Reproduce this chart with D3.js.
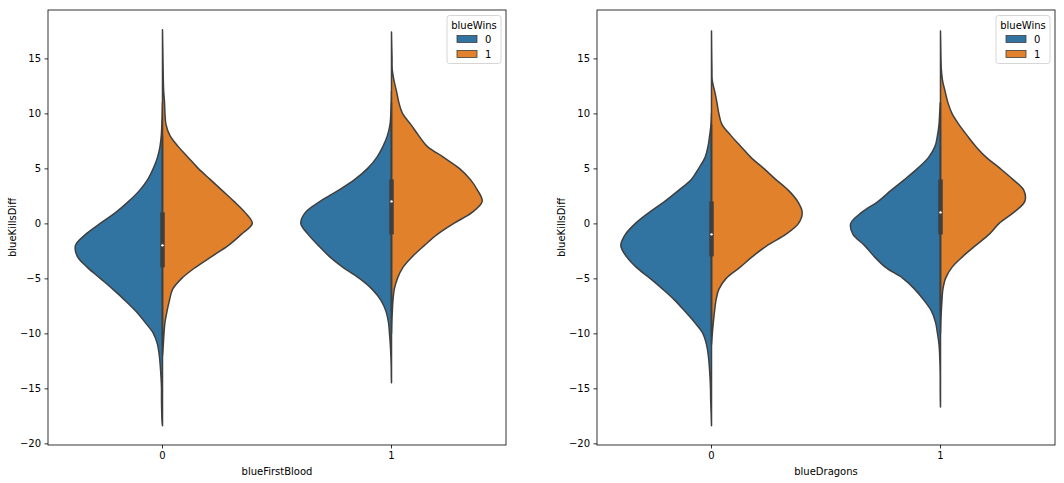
<!DOCTYPE html>
<html>
<head>
<meta charset="utf-8">
<script src="https://cdn.jsdelivr.net/npm/d3@7"></script>
<style>
  body { margin: 0; background: #fff; }
  text { font-family: "DejaVu Sans", sans-serif; }
</style>
</head>
<body>
<svg id="chart" width="1064" height="483"></svg>
<script>
// categories and ticks
const categories = ["0", "1"];
const hueLevels = ["0", "1"];
const yTicks = [-20, -15, -10, -5, 0, 5, 10, 15];

// half-violin widths: [blueKillsDiff, relative density (100 = widest half)]
// blueFirstBlood panel
const fbLose0 = [[-18.4,0],[-18,0.5],[-17,0.9],[-16,1.1],[-15,1.1],[-14,1.6],[-13,2.4],[-12,3.5],[-11,5.5],[-10,10],[-9,19],[-8,29],[-7,41],[-6,54],[-5,68],[-4,82],[-3,93],[-2,95],[-1,84],[0,68],[1,51],[2,37],[3,25],[4,16],[5,10],[6,5.5],[7,2.7],[8,1.3],[9,0.7],[10,0.3],[11,0]];
const fbWin0 = [[-12,0],[-11,0.9],[-10,1.6],[-9,2.7],[-8,4.9],[-7,7.6],[-6,11],[-5,21],[-4,36],[-3,54],[-2,72],[-1,86],[0,98],[1,90],[2,78],[3,65],[4,52],[5,39],[6,28],[7,17],[8,8],[9,3.8],[10,2.7],[11,2.2],[12,1.3],[13,0.9],[14,0.7],[16,0.3],[17.6,0]];
const fbLose1 = [[-14.5,0],[-14,0.2],[-13,0.3],[-12,0.7],[-11,1.3],[-10,2.2],[-9,3.3],[-8,6],[-7,11.5],[-6,21],[-5,35],[-4,53],[-3,68],[-2,80],[-1,91],[0,99],[1,94],[2,78],[3,58],[4,40],[5,26],[6,16],[7,9.3],[8,4.4],[9,1.6],[10,0.7],[11,0.2],[12,0]];
const fbWin1 = [[-10,0],[-9,0.3],[-8,0.9],[-7,1.6],[-6,3],[-5,6.5],[-4,12.5],[-3,23],[-2,36],[-1,50],[0,68],[1,88],[2,99],[3,94],[4,86],[5,74],[6,57],[7,39],[8,29.5],[9,21],[10,12],[11,8],[12,5.5],[13,2.7],[14,0.8],[15,0.6],[16,0.3],[17.4,0]];
// blueDragons panel
const drLose0 = [[-18.4,0],[-17,0.5],[-16,0.9],[-15,1.1],[-14,1.6],[-13,2.4],[-12,3.5],[-11,5.5],[-10,9.5],[-9,18.5],[-8,29],[-7,40],[-6,53],[-5,67],[-4,82],[-3,93],[-2,99],[-1,94],[0,83],[1,68],[2,51],[3,36],[4,22],[5,14],[6,7],[7,3.8],[8,2],[9,0.5],[10,0]];
const drWin0 = [[-11,0],[-10,0.9],[-9,2],[-8,3.3],[-7,4.9],[-6,8],[-5,16],[-4,31],[-3,45],[-2,61],[-1,81],[0,95],[1,99],[2,94],[3,84],[4,70],[5,57],[6,43],[7,32],[8,21],[9,11.4],[10,8],[11,5.9],[12,3.5],[13,0.8],[14,0.5],[15,0.3],[17.5,0]];
const drLose1 = [[-16.7,0],[-16,0.2],[-15,0.3],[-14,0.3],[-13,0.5],[-12,0.9],[-11,1.6],[-10,3.3],[-9,5.4],[-8,9.7],[-7,18],[-6,28],[-5,41],[-4,60],[-3,72.5],[-2,83],[-1,95.5],[0,98],[1,86],[2,68],[3,54],[4,39],[5,25],[6,13],[7,6],[8,3.3],[9,1.6],[10,0.9],[11,0]];
const drWin1 = [[-10,0],[-9,0.3],[-8,0.9],[-7,1.6],[-6,2.6],[-5,5.5],[-4,12.5],[-3,24.5],[-2,38.5],[-1,53],[0,64],[1,80],[2,92],[3,91],[4,79],[5,65],[6,50],[7,38.5],[8,29],[9,20],[10,12.5],[11,8],[12,5],[13,2.2],[14,0.9],[15,0.5],[16,0.3],[17.5,0]];

// inner box stats per category
const fbQ1 = [-4, -1], fbMedian = [-2, 2], fbQ3 = [1, 4], fbWhiskerLo = [-11, -8], fbWhiskerHi = [8, 11];
const drQ1 = [-3, -1], drMedian = [-1, 1], drQ3 = [2, 4], drWhiskerLo = [-10, -8], drWhiskerHi = [9, 11];

const colors = ["#3274a1", "#e1812c"];
const gray = "#3f3f3f";

const svg = d3.select("#chart");

const panels = [
  {left: 48, right: 506, xLabel: "blueFirstBlood", lose: [fbLose0, fbLose1], win: [fbWin0, fbWin1],
   q1: fbQ1, med: fbMedian, q3: fbQ3, lo: fbWhiskerLo, hi: fbWhiskerHi},
  {left: 597, right: 1055, xLabel: "blueDragons", lose: [drLose0, drLose1], win: [drWin0, drWin1],
   q1: drQ1, med: drMedian, q3: drQ3, lo: drWhiskerLo, hi: drWhiskerHi}
];

const plotTop = 10, plotBottom = 445;

let y = d3.scaleLinear()
  .domain([-20.15, 19.4])
  .range([plotBottom, plotTop]);

function drawPanel(p) {
  let g = svg.append("g");
  let x = d3.scaleBand()
    .domain(categories)
    .range([p.left, p.right]);
  let w = d3.scaleLinear()
    .domain([0, 100])
    .range([0, x.bandwidth() * 0.4]);

  categories.forEach((c, i) => {
    let cx = x(c) + x.bandwidth() / 2;
    [p.lose[i], p.win[i]].forEach((vals, h) => {
      let side = h === 0 ? -1 : 1;
      let area = d3.area()
        .curve(d3.curveCatmullRom.alpha(0.5))
        .y(d => y(d[0]))
        .x0(cx)
        .x1(d => cx + side * w(d[1]));
      g.append("path")
        .attr("d", area(vals))
        .attr("fill", colors[h])
        .attr("stroke", gray)
        .attr("stroke-width", 1.5)
        .attr("stroke-linejoin", "round");
    });
    // whiskers
    g.append("line")
      .attr("x1", cx).attr("x2", cx)
      .attr("y1", y(p.lo[i])).attr("y2", y(p.hi[i]))
      .attr("stroke", gray)
      .attr("stroke-width", 1.5);
    // box
    g.append("rect")
      .attr("x", cx - 2.25)
      .attr("width", 4.5)
      .attr("y", y(p.q3[i]))
      .attr("height", y(p.q1[i]) - y(p.q3[i]))
      .attr("fill", gray);
    // median
    g.append("circle")
      .attr("cx", cx)
      .attr("cy", y(p.med[i]))
      .attr("r", 1.2)
      .attr("fill", "white");
  });

  // axes
  let yAxis = g.append("g")
    .attr("transform", `translate(${p.left},0)`)
    .call(d3.axisLeft(y).tickValues(yTicks).tickSize(3.5).tickPadding(3.5));
  let xAxis = g.append("g")
    .attr("transform", `translate(0,${plotBottom})`)
    .call(d3.axisBottom(x).tickSize(3.5).tickPadding(3.5));
  [yAxis, xAxis].forEach(a => {
    a.select(".domain").remove();
    a.attr("font-family", "DejaVu Sans").attr("font-size", 10);
    a.selectAll("line").attr("stroke", "#000").attr("stroke-width", 0.8);
    a.selectAll("text").attr("fill", "#000");
  });

  // frame
  g.append("rect")
    .attr("x", p.left)
    .attr("y", plotTop)
    .attr("width", p.right - p.left)
    .attr("height", plotBottom - plotTop)
    .attr("fill", "none")
    .attr("stroke", "#000")
    .attr("stroke-width", 0.8);

  // labels
  g.append("text")
    .attr("x", (p.left + p.right) / 2)
    .attr("y", 471)
    .attr("text-anchor", "middle")
    .attr("dominant-baseline", "central")
    .attr("font-size", 10)
    .text(p.xLabel);
  g.append("text")
    .attr("transform", `translate(${p.left - 36},${(plotTop + plotBottom) / 2}) rotate(-90)`)
    .attr("text-anchor", "middle")
    .attr("dominant-baseline", "central")
    .attr("font-size", 10)
    .text("blueKillsDiff");

  // legend
  let lx = p.right - 5 - 54;
  let leg = g.append("g").attr("transform", `translate(${lx},15.5)`);
  leg.append("rect")
    .attr("width", 54)
    .attr("height", 48)
    .attr("rx", 2.5)
    .attr("fill", "white")
    .attr("fill-opacity", 0.8)
    .attr("stroke", "#cccccc")
    .attr("stroke-width", 0.8);
  leg.append("text")
    .attr("x", 27)
    .attr("y", 9.5)
    .attr("text-anchor", "middle")
    .attr("dominant-baseline", "central")
    .attr("font-size", 10)
    .text("blueWins");
  hueLevels.forEach((h, i) => {
    let cy = 23.5 + i * 15;
    leg.append("rect")
      .attr("x", 10)
      .attr("y", cy - 3.5)
      .attr("width", 20)
      .attr("height", 7)
      .attr("fill", colors[i])
      .attr("stroke", gray)
      .attr("stroke-width", 0.8);
    leg.append("text")
      .attr("x", 38)
      .attr("y", cy)
      .attr("dominant-baseline", "central")
      .attr("font-size", 10)
      .text(h);
  });
}

panels.forEach(drawPanel);
</script>
</body>
</html>
